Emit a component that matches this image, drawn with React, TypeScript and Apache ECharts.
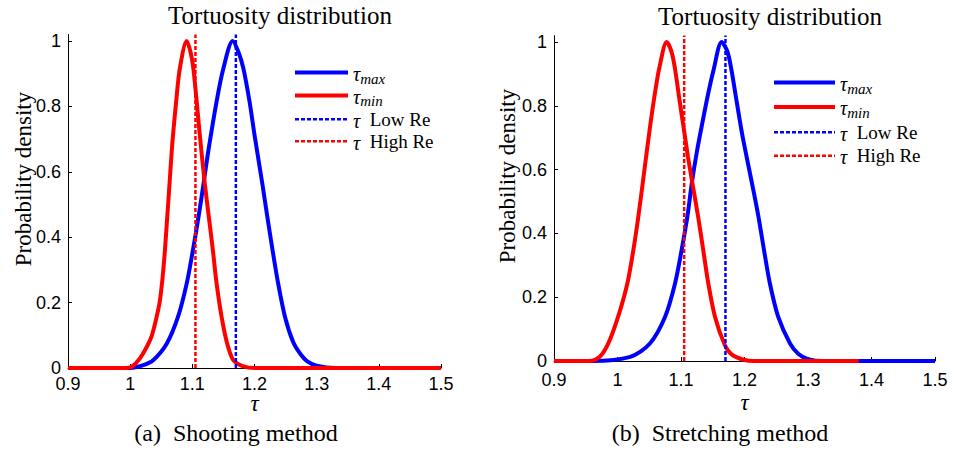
import React, { useEffect, useRef } from "react";
import * as echarts from "echarts";

// ---- Data ----
// (a) Shooting method
const tauMaxA_x = [0.9, 1.0, 1.02, 1.037, 1.059, 1.077, 1.091, 1.101, 1.11, 1.117, 1.126, 1.139, 1.15, 1.165, 1.174, 1.182, 1.192, 1.2, 1.2125, 1.2206, 1.229, 1.238, 1.249, 1.262, 1.273, 1.285, 1.3, 1.33, 1.5];
const tauMaxA_y = [0, 0, 0.008, 0.024, 0.075, 0.157, 0.259, 0.361, 0.463, 0.55, 0.667, 0.815, 0.917, 1.0, 0.967, 0.917, 0.815, 0.713, 0.565, 0.463, 0.361, 0.259, 0.157, 0.08, 0.045, 0.02, 0.007, 0, 0];
const tauMinA_x = [0.9, 0.99, 1.0025, 1.016, 1.032, 1.038, 1.048, 1.056, 1.067, 1.074, 1.08, 1.091, 1.097, 1.1016, 1.107, 1.112, 1.12, 1.127, 1.133, 1.139, 1.147, 1.156, 1.166, 1.181, 1.2, 1.5];
const tauMinA_y = [0, 0, 0.004, 0.03, 0.085, 0.12, 0.208, 0.361, 0.667, 0.815, 0.917, 1.0, 0.967, 0.917, 0.815, 0.713, 0.565, 0.455, 0.361, 0.259, 0.157, 0.075, 0.024, 0.006, 0, 0];
// (b) Stretching method
const tauMaxB_x = [0.9, 0.96, 1.02, 1.051, 1.075, 1.0906, 1.101, 1.11, 1.117, 1.125, 1.134, 1.143, 1.151, 1.164, 1.173, 1.179, 1.1877, 1.1966, 1.213, 1.222, 1.2307, 1.24, 1.253, 1.2717, 1.285, 1.3, 1.325, 1.5];
const tauMaxB_y = [0, 0, 0.013, 0.055, 0.139, 0.243, 0.348, 0.452, 0.557, 0.656, 0.75, 0.84, 0.91, 1.0, 0.97, 0.917, 0.813, 0.708, 0.545, 0.452, 0.348, 0.243, 0.139, 0.055, 0.022, 0.006, 0, 0];
const tauMinB_x = [0.9, 0.955, 0.972, 0.9855, 1.001, 1.0155, 1.025, 1.0328, 1.0397, 1.046, 1.052, 1.059, 1.066, 1.0775, 1.085, 1.0905, 1.098, 1.105, 1.111, 1.119, 1.127, 1.135, 1.143, 1.1535, 1.169, 1.18, 1.2, 1.215, 1.38];
const tauMinB_y = [0, 0, 0.013, 0.055, 0.139, 0.243, 0.348, 0.452, 0.557, 0.655, 0.745, 0.84, 0.92, 1.0, 0.97, 0.917, 0.813, 0.72, 0.64, 0.545, 0.452, 0.348, 0.243, 0.139, 0.05, 0.02, 0.003, 0, 0];
// vertical reference lines (same in both panels)
const tauLowRe = 1.17;
const tauHighRe = 1.105;
const yTop = 1.02;

const yTickValues = [0, 0.2, 0.4, 0.6, 0.8, 1];
const seriesNames = ["τmax", "τmin", "τ Low Re", "τ High Re"];
const titles = ["Tortuosity distribution", "Tortuosity distribution"];
const captions = ["(a)\u2002Shooting method", "(b)\u2002Stretching method"];
const yName = "Probability density";

const BLUE = "#0000ff";
const RED = "#ff0000";
const SERIF = "'Liberation Serif', 'Times New Roman', serif";
const SANS = "'Liberation Sans', Arial, sans-serif";

const zip = (xs: number[], ys: number[]) => xs.map((x, i) => [x, ys[i]]);

function panelSeries(idx: number, maxX: number[], maxY: number[], minX: number[], minY: number[]) {
  const common = { type: "line", xAxisIndex: idx, yAxisIndex: idx, symbol: "none", silent: true };
  return [
    { ...common, name: seriesNames[0], data: zip(maxX, maxY), smooth: 0.3, lineStyle: { color: BLUE, width: 4 }, itemStyle: { color: BLUE } },
    { ...common, name: seriesNames[1], data: zip(minX, minY), smooth: 0.3, lineStyle: { color: RED, width: 4 }, itemStyle: { color: RED } },
    { ...common, name: seriesNames[2], data: [[tauLowRe, 0], [tauLowRe, yTop]], lineStyle: { color: BLUE, width: 2.5, type: [4, 2] }, itemStyle: { color: BLUE } },
    { ...common, name: seriesNames[3], data: [[tauHighRe, 0], [tauHighRe, yTop]], lineStyle: { color: RED, width: 2.5, type: [4, 2] }, itemStyle: { color: RED } },
  ];
}

function xAxisCfg(idx: number, nameGap: number, margin: number) {
  return {
    gridIndex: idx, type: "value", min: 0.9, max: 1.5, interval: 0.1,
    axisLine: { show: true, lineStyle: { color: "#000", width: 1 } },
    axisTick: { show: true, inside: true, length: 4, lineStyle: { color: "#000" } },
    axisLabel: { color: "#000", fontSize: 18, lineHeight: 13, fontFamily: SANS, margin },
    splitLine: { show: false },
    name: "τ", nameLocation: "middle", nameGap, nameMoveOverlap: false,
    nameTextStyle: { color: "#000", fontFamily: SERIF, fontStyle: "italic", fontSize: 23 },
  };
}

function yAxisCfg(idx: number) {
  return {
    gridIndex: idx, type: "value", min: 0, max: yTop,
    axisLine: { show: true, lineStyle: { color: "#000", width: 1 } },
    axisTick: { show: true, inside: true, length: 4, lineStyle: { color: "#000" }, customValues: yTickValues },
    axisLabel: { color: "#000", fontSize: 18, lineHeight: 13, fontFamily: SANS, margin: 7, customValues: yTickValues },
    splitLine: { show: false },
  };
}

const legendRich = {
  t: { fontStyle: "italic", fontFamily: SERIF, fontSize: 20, lineHeight: 17, verticalAlign: "top", color: "#000" },
  s: { fontStyle: "italic", fontFamily: SERIF, fontSize: 15, lineHeight: 10, padding: [7, 0, 0, 0], verticalAlign: "top", color: "#000" },
};
const legendFormatter = (name: string) => {
  if (name === "τmax") return "{t|τ}{s|max}";
  if (name === "τmin") return "{t|τ}{s|min}";
  if (name === "τ Low Re") return "{t|τ}\u2002Low Re";
  return "{t|τ}\u2002High Re";
};

function legendCfg(left: number, top: number, itemWidth: number, itemGap: number) {
  return {
    data: seriesNames.map((n, i) => ({
      name: n,
      lineStyle: { width: i < 2 ? 4 : 2.5 },
    })),
    orient: "vertical", left, top, itemWidth, itemHeight: 14, itemGap,
    selectedMode: false, formatter: legendFormatter,
    itemStyle: { color: "rgba(0,0,0,0)", borderWidth: 0, opacity: 0 },
    textStyle: { fontFamily: SERIF, fontSize: 19, lineHeight: 17, color: "#000", rich: legendRich },
  };
}

function textEl(text: string, x: number, y: number, size: number, rotation = 0) {
  return {
    type: "text", x, y, rotation, silent: true,
    style: { text, fill: "#000", font: `${size}px ${SERIF}`, align: "center", verticalAlign: "middle" },
  };
}

export default function App() {
  const ref = useRef<HTMLDivElement>(null);
  useEffect(() => {
    if (!ref.current) return;
    const chart = echarts.init(ref.current, null, { renderer: "svg" });
    chart.setOption({
      animation: false,
      backgroundColor: "#fff",
      grid: [
        { left: 68, top: 34.5, width: 373, height: 333.5 },
        { left: 554, top: 35.6, width: 381, height: 325.4 },
      ],
      xAxis: [xAxisCfg(0, 24, 9.5), xAxisCfg(1, 30, 12.5)],
      yAxis: [yAxisCfg(0), yAxisCfg(1)],
      legend: [legendCfg(288, 59, 53, 0.9), legendCfg(767, 69, 61, 2.4)],
      series: [
        ...panelSeries(0, tauMaxA_x, tauMaxA_y, tauMinA_x, tauMinA_y),
        ...panelSeries(1, tauMaxB_x, tauMaxB_y, tauMinB_x, tauMinB_y),
      ],
      graphic: [
        textEl(titles[0], 280, 15, 25),
        textEl(titles[1], 770, 16, 25),
        textEl(captions[0], 236, 433, 24),
        textEl(captions[1], 720, 433, 24),
        textEl(yName, 23, 179, 23, Math.PI / 2),
        textEl(yName, 507, 176, 23, Math.PI / 2),
      ],
    });
    return () => chart.dispose();
  }, []);
  return <div ref={ref} style={{ position: "fixed", left: 0, top: 0, width: 953, height: 453 }} />;
}
